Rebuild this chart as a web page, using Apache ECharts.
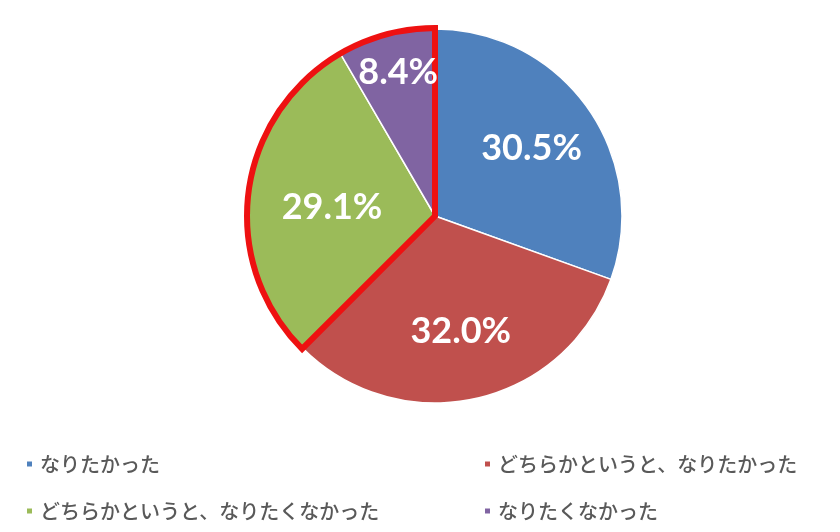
<!DOCTYPE html>
<html>
<head>
<meta charset="utf-8">
<script src="https://cdn.jsdelivr.net/npm/echarts@6/dist/echarts.min.js"></script>
<style>
  html, body { margin: 0; padding: 0; background: #fff; }
  #pie { width: 840px; height: 532px; }
</style>
</head>
<body>
<div id="pie"></div>
<script>
// データ
var categories = ['なりたかった', 'どちらかというと、なりたかった', 'どちらかというと、なりたくなかった', 'なりたくなかった'];
var values = [30.5, 32.0, 29.1, 8.4];
var colors = ['#4F81BD', '#C0504D', '#9BBB59', '#8064A2'];
// 赤枠で囲む項目（インデックス）
var outlined = [2, 3];

var myChart = echarts.init(document.getElementById('pie'));

var center = [435, 216];
var jpFont = '"Noto Sans CJK JP", "Noto Sans", sans-serif';

var mainData = categories.map(function (name, i) {
    return {value: values[i], name: name, itemStyle: {color: colors[i]}};
});

// 枠用データ：枠内と枠外の合計
var inSum = 0, outSum = 0;
values.forEach(function (v, i) {
    if (outlined.indexOf(i) >= 0) inSum += v; else outSum += v;
});

// ラベル用データ（位置の微調整）
var labelOffsets = {2: [14, 7], 3: [-6, -30]};
var labelData = categories.map(function (name, i) {
    var item = {value: values[i], name: name};
    if (labelOffsets[i]) item.label = {offset: labelOffsets[i]};
    return item;
});

var legendCommon = {
    orient: 'vertical',
    top: 449,
    icon: 'rect',
    itemWidth: 7,
    itemHeight: 7,
    itemGap: 27,
    selectedMode: false,
    textStyle: {
        fontFamily: jpFont,
        fontSize: 20,
        fontWeight: 500,
        color: '#595959',
        padding: [0, 0, 0, 2]
    }
};

var option = {
    animation: false,
    legend: [
        Object.assign({left: 20, data: [categories[0], categories[2]]}, legendCommon),
        Object.assign({left: 478, data: [categories[1], categories[3]]}, legendCommon)
    ],
    series: [
        {
            name: '回答',
            type: 'pie',
            center: center,
            radius: 187,
            startAngle: 90,
            clockwise: true,
            avoidLabelOverlap: false,
            silent: true,
            itemStyle: {borderColor: '#ffffff', borderWidth: 1.5},
            label: {show: false},
            labelLine: {show: false},
            data: mainData
        },
        {
            name: '枠',
            type: 'pie',
            center: center,
            radius: 188,
            startAngle: 90,
            clockwise: true,
            silent: true,
            z: 3,
            label: {show: false},
            labelLine: {show: false},
            data: [
                {value: outSum, name: '_out', itemStyle: {color: 'rgba(0,0,0,0)', borderWidth: 0}},
                {value: inSum, name: '_in', itemStyle: {color: 'rgba(0,0,0,0)', borderColor: '#EE1111', borderWidth: 6, borderJoin: 'miter'}}
            ]
        },
        {
            name: 'ラベル',
            type: 'pie',
            center: center,
            radius: 230,
            startAngle: 90,
            clockwise: true,
            silent: true,
            z: 4,
            avoidLabelOverlap: false,
            itemStyle: {color: 'rgba(0,0,0,0)'},
            label: {
                show: true,
                position: 'inside',
                formatter: function (p) { return p.value.toFixed(1) + '%'; },
                color: '#ffffff',
                fontFamily: 'Lato, "Open Sans", sans-serif',
                fontWeight: 'bold',
                fontSize: 36
            },
            labelLine: {show: false},
            data: labelData
        }
    ]
};

myChart.setOption(option);
</script>
</body>
</html>
